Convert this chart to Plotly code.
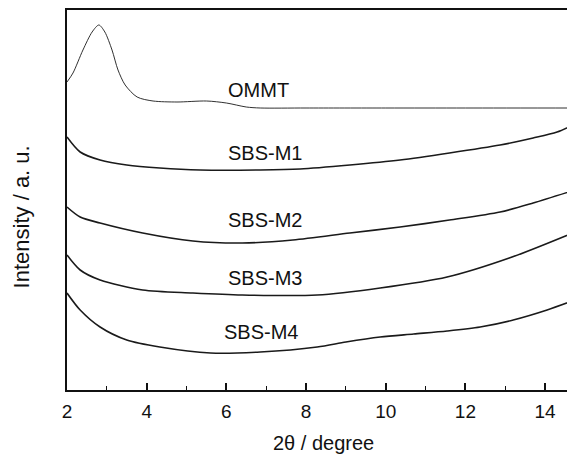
import plotly.graph_objects as go

# 2theta (degree) and intensity (a.u., offset traces)
ommt_x = [2.0, 2.15, 2.4, 2.63, 2.8, 2.95, 3.13, 3.28, 3.46, 3.76, 4.16, 4.76, 5.5, 6.0, 6.5, 6.85, 8.0, 10.0, 12.0, 14.75]
ommt_y = [308, 317, 340, 358, 365, 358, 340, 320, 305, 293, 289, 288, 289, 287, 283, 282, 282, 282, 282, 282]

m1_x = [2.0, 2.33, 2.83, 3.5, 4.33, 5.34, 6.85, 7.85, 9.1, 10.36, 11.6, 12.87, 13.7, 14.3, 14.75]
m1_y = [253, 238, 230, 225, 222, 220, 220, 221, 225, 230, 237, 245, 252, 258, 266]

m2_x = [2.0, 2.33, 2.83, 3.9, 5.16, 6.4, 7.67, 9.1, 10.36, 11.6, 12.87, 13.7, 14.75]
m2_y = [183, 173, 167, 157, 149, 147, 150, 157, 163, 170, 178, 187, 200]

m3_x = [2.0, 2.33, 2.83, 3.9, 5.16, 6.4, 8.28, 9.86, 11.54, 13.1, 14.75]
m3_y = [135, 120, 110, 100, 97, 95, 95, 102, 113, 132, 158]

m4_x = [2.0, 2.33, 2.83, 3.5, 4.33, 5.6, 6.85, 8.28, 9.0, 9.86, 10.7, 11.54, 12.37, 13.2, 14.05, 14.75]
m4_y = [97, 80, 63, 50, 43, 37, 38, 43, 48, 53, 56, 59, 63, 70, 80, 90]

labels = ["OMMT", "SBS-M1", "SBS-M2", "SBS-M3", "SBS-M4"]
label_x = [5.98, 5.98, 5.98, 5.98, 5.9]
label_y = [300, 237, 170, 112, 58]

fig = go.Figure()
series = [(ommt_x, ommt_y, 0.9), (m1_x, m1_y, 1.6), (m2_x, m2_y, 1.6), (m3_x, m3_y, 1.6), (m4_x, m4_y, 1.6)]
for (xs, ys, w), name in zip(series, labels):
    fig.add_trace(go.Scatter(x=xs, y=ys, mode="lines", name=name,
                             line=dict(color="#1a1a1a", width=w, shape="spline", smoothing=0.8),
                             showlegend=False))

FONT = "Liberation Sans, Arial"
for t, lx, ly in zip(labels, label_x, label_y):
    fig.add_annotation(x=lx, y=ly, text=t, showarrow=False, xanchor="left", yanchor="middle",
                       font=dict(family=FONT, size=20, color="#111"))

# axis titles
fig.add_annotation(xref="paper", yref="paper", x=0.505, y=-0.14, text="2θ / degree",
                   showarrow=False, xanchor="center", yanchor="middle",
                   font=dict(family=FONT, size=20, color="#111"))
fig.add_annotation(xref="paper", yref="paper", x=-0.09, y=0.455, text="Intensity / a. u.",
                   showarrow=False, xanchor="center", yanchor="middle", textangle=-90,
                   font=dict(family=FONT, size=22, color="#111"))

# the page body adds an 8px margin, so the figure is 8px smaller and offsets are reduced
fig.update_layout(
    width=567, height=446,
    margin=dict(l=59, r=0, t=2, b=64),
    paper_bgcolor="white", plot_bgcolor="white",
    font=dict(family=FONT, color="#111"),
    xaxis=dict(range=[2, 14.75], tick0=2, dtick=2, ticks="inside", ticklen=7, tickwidth=1.5,
               tickcolor="#111", showline=True, linecolor="#111", linewidth=1.5, mirror=True,
               showgrid=False, zeroline=False, tickfont=dict(size=19), ticklabelstandoff=3,
               minor=dict(dtick=1, ticks="inside", ticklen=4, tickwidth=1.2, tickcolor="#111",
                          showgrid=False),
               automargin=False),
    yaxis=dict(range=[0, 380], showticklabels=False, ticks="", showline=True, linecolor="#111",
               linewidth=1.5, showgrid=False, zeroline=False, automargin=False),
)

fig.write_html("out.html")
